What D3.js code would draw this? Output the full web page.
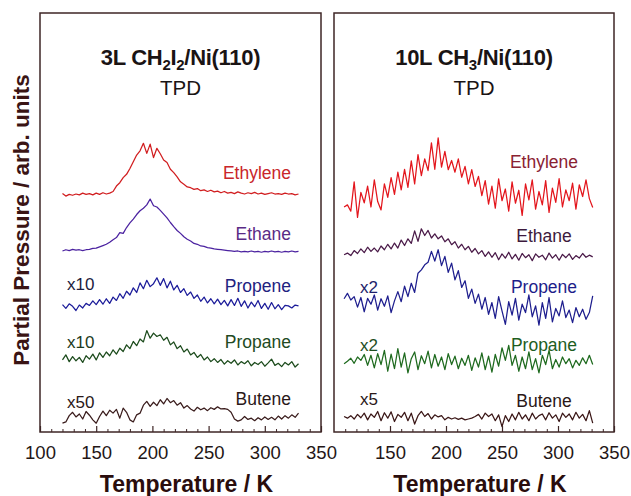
<!DOCTYPE html>
<html>
<head>
<meta charset="utf-8">
<script src="https://cdn.jsdelivr.net/npm/d3@7"></script>
<style>
  body { margin: 0; background: #fff; }
  svg text { font-family: "Liberation Sans", Arial, sans-serif; }
</style>
</head>
<body>
<svg id="chart" width="631" height="496"></svg>
<script>
// ---- Data (arbitrary units) ----
var tempsLeft = [120,123,126,129,132,135,138,141,144,147,
  150,153,156,159,162,165,168,171,174,177,
  180,183,186,189,192,195,198,201,204,207,
  210,213,216,219,222,225,228,231,234,237,
  240,243,246,249,252,255,258,261,264,267,
  270,273,276,279,282,285,288,291,294,297,
  300,303,306,309,312,315,318,321,324,327,
  330];

var tempsRight = [109,112,115,118,121,124,127,130,133,136,
  139,142,145,148,151,154,157,160,163,166,
  169,172,175,178,181,184,187,190,193,196,
  199,202,205,208,211,214,217,220,223,226,
  229,232,235,238,241,244,247,250,253,256,
  259,262,265,268,271,274,277,280,283,286,
  289,292,295,298,301,304,307,310,313,316,
  319,322,325,328,331];

var leftEthylene = [0.8,0.2,0.6,0.4,0.7,0.5,0.9,0.6,0.8,0.5,
  0.9,0.6,1.0,0.7,0.9,1.3,2.6,3.4,4.6,5.4,
  6.8,8.4,10.0,11.0,12.8,10.4,12.6,9.4,11.6,10.3,
  8.8,8.2,6.6,5.8,4.8,3.6,3.0,2.4,2.2,1.8,
  2.0,1.5,1.7,1.3,1.6,1.2,1.4,1.0,1.3,0.9,
  1.1,0.8,1.2,0.9,0.7,1.0,0.8,1.1,0.7,0.9,
  0.6,0.8,1.0,0.7,0.8,0.6,0.9,0.7,0.8,0.5,
  0.7];
var leftEthane = [0.2,0.5,0.3,0.6,0.4,0.5,0.3,0.5,0.6,0.8,
  0.9,1.2,1.5,1.8,2.3,2.9,3.4,4.6,4.4,5.8,
  6.9,7.8,8.9,9.8,10.4,11.2,12.6,11.0,10.7,9.9,
  9.0,8.1,7.0,6.0,5.1,4.4,3.6,3.0,2.6,2.0,
  1.8,1.4,1.3,1.0,0.9,0.7,0.6,0.5,0.4,0.3,
  0.2,0.1,0.2,0.0,0.1,0.0,0.2,0.0,0.1,-0.1,
  0.1,0.0,0.2,0.0,0.1,-0.1,0.1,0.0,0.2,0.0,
  0.1];
var leftPropene = [0.6,-0.3,0.8,0.2,-0.8,0.5,-0.2,0.9,0.4,1.5,
  0.6,1.8,0.7,2.0,0.9,2.4,1.6,3.2,2.1,3.8,
  2.9,4.6,3.5,5.8,4.4,6.4,4.9,5.6,7.0,5.2,
  6.8,4.6,6.2,4.1,5.2,3.5,4.4,2.8,3.6,2.1,
  2.9,1.4,2.4,1.0,2.0,0.8,1.9,0.6,1.6,0.3,
  1.8,0.4,2.1,0.2,1.5,-0.2,1.2,0.1,1.6,-0.3,
  0.9,-0.5,1.1,-0.4,0.6,-0.6,0.4,0.3,-0.2,0.5,
  0.3];
var leftPropane = [1.2,2.4,0.8,2.0,1.0,1.8,0.6,2.2,1.4,2.6,
  1.2,2.9,1.8,3.1,2.2,3.6,2.6,4.0,3.2,4.8,
  3.9,5.6,4.6,6.2,5.5,8.2,6.4,7.6,6.8,7.2,
  5.9,6.6,4.8,5.5,3.9,4.6,3.1,3.8,2.4,3.0,
  1.8,2.5,1.2,1.9,0.8,1.5,0.6,1.3,0.2,1.0,
  0.4,1.2,0.0,0.8,0.3,1.0,-0.2,0.6,0.1,0.8,
  -0.3,0.5,1.4,-0.1,0.4,-0.4,0.6,0.0,0.8,-0.5,
  0.3];
var leftButene = [0.0,0.3,1.8,2.6,1.5,2.2,1.0,2.8,1.9,0.8,
  0.0,1.6,2.9,1.8,3.1,2.4,3.3,1.2,3.6,2.6,
  0.8,0.3,2.0,2.4,4.3,5.2,4.0,5.0,4.2,5.6,
  4.6,5.9,4.9,5.4,4.3,4.9,3.6,4.2,3.4,2.9,
  3.8,3.2,3.6,3.0,3.7,3.3,3.9,3.4,3.5,3.3,
  2.6,1.0,0.5,0.8,1.6,0.9,1.2,0.6,1.3,0.8,
  1.5,0.9,1.4,0.8,1.7,1.0,1.8,1.2,2.0,1.4,
  2.4];

var rightEthylene = [-0.5,0.0,-1.5,5.5,-3.0,3.0,0.5,4.5,-0.5,6.0,
  0.8,-1.2,5.0,1.8,6.5,2.5,7.8,3.6,8.5,4.2,
  10.5,5.0,12.0,7.0,11.0,8.2,14.8,8.5,16.0,9.0,
  12.8,8.4,10.6,7.8,11.0,6.6,9.2,5.0,8.4,4.4,
  6.8,2.2,5.8,0.2,4.5,-0.8,6.2,1.0,3.8,-1.5,
  5.5,0.4,3.5,-2.5,5.0,1.2,6.0,-1.0,3.2,0.0,
  5.8,-1.8,4.0,0.6,6.3,-0.5,3.6,1.0,5.2,-1.0,
  4.8,2.0,6.0,1.5,-0.6];
var rightEthane = [0.8,1.2,0.6,1.8,1.1,2.2,1.3,2.6,1.6,2.4,
  1.5,2.9,2.0,3.3,2.2,3.6,2.4,4.3,3.0,4.6,
  3.5,6.5,4.0,7.0,5.4,6.6,4.8,5.8,4.6,5.3,
  3.9,4.6,3.2,3.9,2.4,3.3,2.0,2.8,1.4,2.3,
  1.0,1.8,0.4,1.5,0.2,1.3,-0.4,1.0,0.0,1.4,
  -0.2,0.9,-0.5,1.1,0.1,0.8,-0.6,1.0,0.2,0.7,
  -0.4,1.2,0.0,0.8,-0.5,0.9,0.1,1.0,-0.3,0.6,
  0.0,1.1,0.2,0.7,0.3];
var rightPropene = [1.5,2.8,1.2,2.0,-0.5,1.8,-1.6,1.6,0.2,2.4,
  -1.2,1.5,-0.3,2.2,-1.8,1.0,3.2,0.8,4.5,2.0,
  5.2,3.0,7.6,8.4,9.6,10.2,12.8,10.5,13.2,9.4,
  11.6,7.8,10.0,6.0,8.2,4.2,5.8,1.6,3.8,0.4,
  2.6,-1.0,1.8,-2.2,0.6,-3.2,2.0,-1.4,-4.6,0.8,
  -2.4,1.6,-3.6,0.2,-1.8,2.4,-2.8,-0.2,-4.8,0.6,
  -3.2,1.8,-4.0,-0.8,-2.6,1.0,-3.0,-1.2,-4.2,-0.6,
  -2.8,-1.0,-3.4,-1.8,2.2];
var rightPropane = [-0.4,0.2,0.9,-0.3,1.2,0.4,1.8,-0.8,1.6,-1.4,
  2.0,-0.6,2.8,-2.2,1.9,-1.6,3.2,-1.2,2.2,-2.6,
  0.8,2.4,-1.8,1.5,-0.4,2.6,-1.4,1.8,-1.0,1.2,
  -1.8,2.0,-0.6,1.4,-1.6,0.9,-0.8,1.6,-2.0,1.0,
  -1.2,2.2,-1.8,1.4,-2.4,1.8,-1.0,3.4,0.4,4.0,
  -0.8,1.6,-2.2,1.2,-1.6,2.4,-1.8,0.8,-2.6,1.6,
  -0.6,2.8,-1.6,0.6,-1.2,1.2,-0.4,0.8,-1.4,0.4,
  -0.8,1.0,-0.4,1.6,-0.6];
var rightButene = [0.4,0.0,0.6,-0.2,0.9,0.1,1.2,-0.4,1.0,0.2,
  1.6,-0.6,1.3,0.0,1.5,-0.8,0.9,0.2,1.4,-0.6,
  1.2,-1.4,0.6,1.6,0.4,1.1,-0.2,0.8,0.3,0.6,
  -0.4,0.2,-0.2,0.1,-0.3,0.0,-0.4,-0.2,0.0,0.4,
  0.9,-0.2,1.2,0.4,1.0,-0.6,0.8,-2.0,0.6,-0.8,
  1.0,-0.4,1.4,-0.2,0.8,-0.6,1.2,-0.2,0.6,1.0,
  -0.4,1.3,0.0,0.8,-0.8,1.2,0.2,1.0,-0.4,1.4,
  0.0,0.9,-0.6,1.8,-1.2];

var speciesNames = ["Ethylene", "Ethane", "Propene", "Propane", "Butene"];
var leftFactors = ["", "", "x10", "x10", "x50"];
var rightFactors = ["", "", "x2", "x2", "x5"];
// vertical offsets of the stacked traces (arb. units)
var leftOffsets = [56.1, 43.0, 29.8, 16.0, 2.1];
var rightOffsets = [54.2, 41.5, 30.3, 16.7, 3.3];

var leftTickLabels = [100, 150, 200, 250, 300, 350];
var rightTickLabels = [150, 200, 250, 300, 350];
var minorTicks = [110,120,130,140,160,170,180,190,210,220,230,240,260,270,280,290,310,320,330,340];

// ---- Layout ----
var plotTop = 13, plotBottom = 432;
var svg = d3.select("#chart");
var y = d3.scaleLinear().domain([0, 100]).range([plotBottom, plotTop]);

var panels = [
  {
    x0: 40, x1: 321, temps: tempsLeft,
    series: [leftEthylene, leftEthane, leftPropene, leftPropane, leftButene],
    offsets: leftOffsets, factors: leftFactors, ticks: leftTickLabels,
    colors: ["#d11d1f", "#4b22a0", "#1c1c9a", "#1c4b1c", "#3a1c1c"],
    labelColors: ["#c9262a", "#5a2b86", "#22227f", "#224a22", "#2a1818"],
    factorColors: ["", "", "#1c1c40", "#1c3a1c", "#2a1818"],
    labelX: 291, labelAnchor: "end", labelY: [179, 240, 292, 348, 405],
    factorX: 67, factorY: [0, 0, 290, 348, 408],
    title: [["3L CH", 0], ["2", 1], ["I", 0], ["2", 1], ["/Ni(110)", 0]]
  },
  {
    x0: 334, x1: 614, temps: tempsRight,
    series: [rightEthylene, rightEthane, rightPropene, rightPropane, rightButene],
    offsets: rightOffsets, factors: rightFactors, ticks: rightTickLabels,
    colors: ["#e3161d", "#4a1a48", "#1e1e8e", "#1e6a1e", "#3a1616"],
    labelColors: ["#8a2232", "#3d1a3d", "#1e1e8a", "#1e5e1e", "#2a1818"],
    factorColors: ["", "", "#1e1e6a", "#1e4e1e", "#2a1818"],
    labelX: 544, labelAnchor: "middle", labelY: [168, 242, 293, 351, 407],
    factorX: 360, factorY: [0, 0, 293, 351, 405],
    title: [["10L CH", 0], ["3", 1], ["/Ni(110)", 0]]
  }
];

panels.forEach(function(p) {
  var x = d3.scaleLinear().domain([100, 350]).range([p.x0, p.x1]);
  var g = svg.append("g");
  var cx = (p.x0 + p.x1) / 2;

  // traces
  p.series.forEach(function(vals, i) {
    var line = d3.line()
      .x(function(d, j) { return x(p.temps[j]); })
      .y(function(d) { return y(d + p.offsets[i]); });
    g.append("path").datum(vals)
      .attr("fill", "none").attr("stroke", p.colors[i])
      .attr("stroke-width", 1.25).attr("stroke-linejoin", "round")
      .attr("d", line);

    g.append("text").attr("x", p.labelX).attr("y", p.labelY[i])
      .attr("text-anchor", p.labelAnchor).attr("font-size", 17.5)
      .attr("fill", p.labelColors[i]).text(speciesNames[i]);

    if (p.factors[i]) {
      g.append("text").attr("x", p.factorX).attr("y", p.factorY[i])
        .attr("font-size", 17).attr("fill", p.factorColors[i]).text(p.factors[i]);
    }
  });

  // ticks
  var minor = g.append("g").attr("transform", "translate(0," + plotBottom + ")")
    .call(d3.axisBottom(x).tickValues(minorTicks).tickSize(-3).tickFormat(""));
  minor.select(".domain").remove();
  minor.selectAll("line").attr("stroke", "#3e2626");

  var major = g.append("g").attr("transform", "translate(0," + plotBottom + ")")
    .call(d3.axisBottom(x).tickValues(p.ticks).tickSizeInner(-6).tickSizeOuter(0).tickPadding(14));
  major.select(".domain").remove();
  major.selectAll("line").attr("stroke", "#3e2626").attr("stroke-width", 1.2);
  major.selectAll("text").attr("font-size", 18.5).attr("fill", "#241616")
    .style("font-family", "'Liberation Sans', Arial, sans-serif");

  // frame
  g.append("rect").attr("x", p.x0).attr("y", plotTop)
    .attr("width", p.x1 - p.x0).attr("height", plotBottom - plotTop)
    .attr("fill", "none").attr("stroke", "#3e2626").attr("stroke-width", 1.5);

  // title
  var t = g.append("text").attr("x", cx).attr("y", 65)
    .attr("text-anchor", "middle").attr("font-size", 22).attr("font-weight", "bold")
    .attr("fill", "#1a1414").attr("letter-spacing", -0.3);
  var shift = 0;
  p.title.forEach(function(part) {
    var dy = part[1] ? 5 - shift : -shift;
    shift = part[1] ? 5 : 0;
    t.append("tspan").attr("dy", dy).attr("font-size", part[1] ? 15 : 22).text(part[0]);
  });
  g.append("text").attr("x", cx).attr("y", 95).attr("text-anchor", "middle")
    .attr("font-size", 20.5).attr("fill", "#1a1414").text("TPD");

  // x axis title
  g.append("text").attr("x", cx + 6).attr("y", 492).attr("text-anchor", "middle")
    .attr("font-size", 23).attr("font-weight", "bold").attr("fill", "#2a0d0d")
    .text("Temperature / K");
});

// y axis title
svg.append("text").attr("transform", "translate(29,220) rotate(-90)")
  .attr("text-anchor", "middle").attr("font-size", 22.5).attr("font-weight", "bold")
  .attr("fill", "#3a1414").text("Partial Pressure / arb. units");
</script>
</body>
</html>
